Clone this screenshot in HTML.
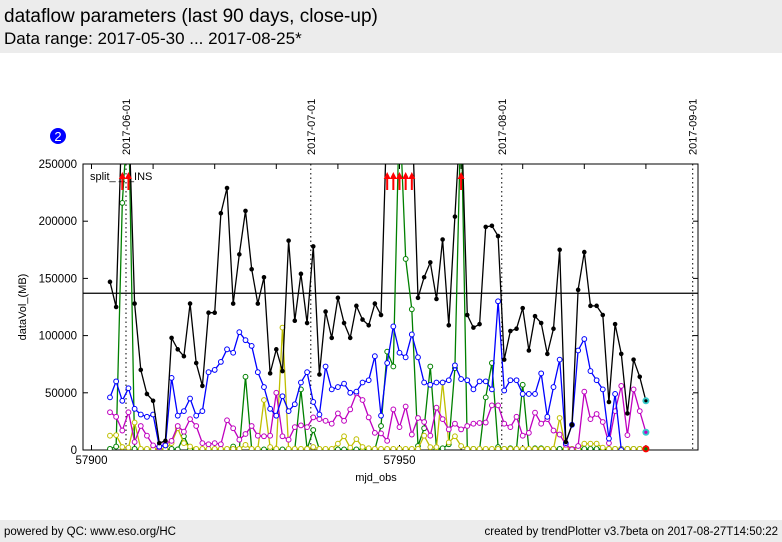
<!DOCTYPE html>
<html><head><meta charset="utf-8"><style>
body{margin:0;width:782px;height:542px;background:#fff;font-family:"Liberation Sans",sans-serif;overflow:hidden;position:relative}
#hdr{position:absolute;left:0;top:0;width:782px;height:53px;background:#ececec}
#t1{position:absolute;left:4px;top:6px;font-size:19px}
#t2{position:absolute;left:4px;top:29px;font-size:17px}
#ftr{position:absolute;left:0;top:520px;width:782px;height:22px;background:#ececec;font-size:11.5px}
#fl{position:absolute;left:4px;top:6px}#fr{position:absolute;right:4px;top:6px}
svg{position:absolute;left:0;top:0}
</style></head><body>
<div id="hdr">
<div id="t1">dataflow parameters (last 90 days, close-up)</div>
<div id="t2">Data range: 2017-05-30 ... 2017-08-25*</div></div>
<div id="ftr"><span id="fl">powered by QC: www.eso.org/HC</span><span id="fr">created by trendPlotter v3.7beta on 2017-08-27T14:50:22</span></div>
<svg id="c" width="782" height="542"></svg>
<script>
// values in thousands of MB
const startMjd=57903;
const black=[147,125,300,300,128,70,49,43,6,8,98,88,82,128,76,56,120,120,207,229,128,171,209,158,128,151,67,88,69,183,113,154,111,178,66,121,98,133,111,98,126,114,109,128,118,300,300,300,300,300,133,151,164,132,184,109,204,300,118,107,110,195,196,187,79,104,106,124,87,117,111,84,106,175,7,22,140,173,126,126,118,42,110,84,32,79,64,43];
const blue=[46,60,43,54,36,31,29,31,3,4,63,30,34,45,30,34,68,70,77,88,85,103,96,91,68,55,36,30,47,34,40,59,68,42,31,73,53,55,58,50,51,59,61,82,30,76,108,85,81,101,81,59,57,59,59,61,74,62,61,53,60,60,53,130,52,61,61,49,49,49,67,29,55,79,6,22,87,97,69,61,53,10,49,0,null,null,null,null];
const magenta=[33,29,17,33,7,21,12.5,4,2,6,8,21,16,27,21,6,5,6,5,26,19,9,14,21,12.5,12,12.5,50,12,9,20,21.5,20,28.5,27,25.5,23,32,25.5,35.5,49.5,43.7,28.5,15,14.5,8,35.5,20,38,13.5,28,24.5,12.5,37,27,18,23,18,21,23,23.6,24,39,39,23,20,29,12.5,15,32.6,23,27,17,13.5,4.6,0.5,3.5,51,27,31.5,24.5,6,34,56,13,53,34,15.5];
const green=[1,3,216,300,1,0.5,0.5,0.5,0.5,0.5,1,0.5,12,1,0.5,0.5,0.5,0.5,0.5,0.5,3,0.5,64,0.5,0.5,0.5,0.5,0.5,0.5,0.5,0.5,53,1,17.5,0.5,0.5,0.5,0.5,0.5,0.5,0.5,0.5,0.5,0.5,21,86,73,300,167,123,3.5,19,73,1,1.5,5,71.5,300,1,1,0.5,46,76,2.6,1,1.5,1,57,0.5,1.5,1.5,1,1,1,1,1,1,1,1,1,1,1,1,1,1,1,1,1];
const yellow=[12.5,13,2.6,2,24,1,1,1,1,1,6,19,6,3,1,1,1,1,1,1,1,1,4.5,1,1,43.7,2.6,1,107,1,1,1,1,2.6,1,1,1,5.5,12,2,9.5,2.6,1.5,1,1,1,1,1,1,1,1,12.5,2.5,2.5,59,6.6,12,3.5,1,1,1,1,1,1,1,1,1,1,1,1,1,1,1,28,1,1,1,5.5,5.5,5.5,2,1,1,1,1,1,1,1];
const yTicks=[0,50000,100000,150000,200000,250000];
const xTickLabels=[57900,57950];
const dateLabels=["2017-06-01","2017-07-01","2017-08-01","2017-09-01"];
const dateMjd=[57905.6,57935.6,57966.6,57997.6];
const refLine=137000;

const L=83,R=698,T=164,B=450,YMAX=250000;
const X=m=>91.5+(m-57900)*6.16;
const Y=v=>B-(v/YMAX)*(B-T);
const YK=v=>Y(v*1000);
const NS="http://www.w3.org/2000/svg";
const svg=document.getElementById('c');
function el(t,a,p){const e=document.createElementNS(NS,t);for(const k in a)e.setAttribute(k,a[k]);(p||svg).appendChild(e);return e;}
const defs=el('defs',{});const cp=el('clipPath',{id:'cl'},defs);el('rect',{x:L,y:T,width:R-L,height:B-T},cp);

dateMjd.forEach((m,i)=>{
 const ln=el('line',{x1:X(m),x2:X(m),y1:T,y2:B,stroke:'#000','stroke-dasharray':'1.5,3'});
 
 
 const tx=el('text',{x:0,y:0,'font-size':11,transform:`translate(${X(m)+4},155) rotate(-90)`});
 tx.textContent=dateLabels[i];
 
 
});
const fr=el('rect',{x:L,y:T,width:R-L,height:B-T,fill:'none',stroke:'#000'});


yTicks.forEach(v=>{
 el('line',{x1:L,x2:L+5,y1:Y(v),y2:Y(v),stroke:'#000'});el('line',{x1:R,x2:R-5,y1:Y(v),y2:Y(v),stroke:'#000'});
 const t=el('text',{x:77,y:Y(v)+4,'font-size':11.5,'text-anchor':'end'});t.textContent=v;
 
 
});
for(let m=57900;m<=57990;m+=10){el('line',{x1:X(m),x2:X(m),y1:B,y2:B-5,stroke:'#000'});el('line',{x1:X(m),x2:X(m),y1:T,y2:T+5,stroke:'#000'});}
xTickLabels.forEach(m=>{const t=el('text',{x:X(m),y:464,'font-size':11.5,'text-anchor':'middle'});t.textContent=m;
 
 });
const yt=el('text',{x:0,y:0,'font-size':11,'text-anchor':'middle',transform:'translate(26,307) rotate(-90)'});yt.textContent='dataVol_(MB)';


const xt=el('text',{x:376,y:481,'font-size':11,'text-anchor':'middle'});xt.textContent='mjd_obs';


const rl=el('line',{x1:L,x2:R,y1:Y(refLine),y2:Y(refLine),stroke:'#000','stroke-width':1.2});



const g=el('g',{'clip-path':'url(#cl)'});
function series(arr,col,name,filled){
 let d='',pen=false;
 arr.forEach((v,i)=>{if(v==null){pen=false;return;}const x=X(startMjd+i),y=YK(v);d+=(pen?'L':'M')+x.toFixed(1)+','+y.toFixed(1);pen=true;});
 const p=el('path',{d,fill:'none',stroke:col,'stroke-width':1.3},g);
 
 
 arr.forEach((v,i)=>{if(v==null)return;
  const c=el('circle',{cx:X(startMjd+i),cy:YK(v),r:filled?1.8:2.4,fill:filled?col:'#fff',stroke:col,'stroke-width':1},g);
  
  });
}
series(green,'#008000','green-series',false);
series(yellow,'#bfbf00','yellow-series',false);
series(magenta,'#bf00bf','magenta-series',false);
series(blue,'#0000ff','blue-series',false);
series(black,'#000','black-series',true);
function mark(arr,col,inner){const i=arr.length-1;const c=el('circle',{cx:X(startMjd+i),cy:YK(arr[i]),r:3.5,fill:col});
 
 
 el('circle',{cx:X(startMjd+i),cy:YK(arr[i]),r:1.6,fill:inner});}
mark(black,'#33cccc','#000');mark(magenta,'#33cccc','#bf00bf');mark(green,'#ff0000','#008000');
const lg=el('text',{x:90,y:180,'font-size':11});lg.textContent='split_ _ _INS';


black.forEach((v,i)=>{if(v*1000<=YMAX)return;const x=X(startMjd+i);
 const a=el('path',{d:`M${x},172 l-3.5,7 h2.5 v11 h2 v-11 h2.5 z`,fill:'#ff0000'});
 
 });
const bc=el('circle',{cx:58,cy:136,r:8,fill:'#0000ff'});


const bt=el('text',{x:58,y:141,'font-size':13,fill:'#fff','text-anchor':'middle'});bt.textContent='2';


</script>
</body></html>
